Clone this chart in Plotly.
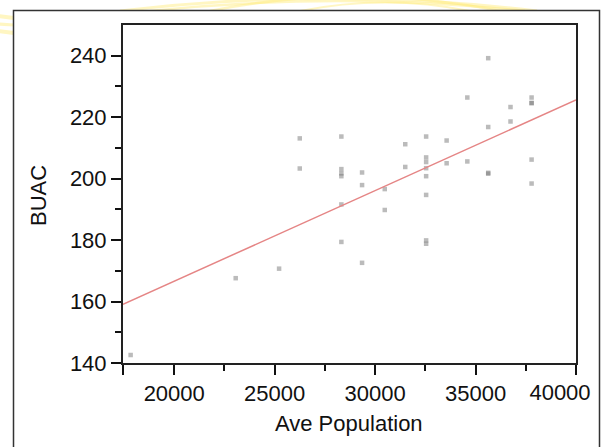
import plotly.graph_objects as go

# ---- data ----
ave_population = [
    17830, 23060, 25220,
    26250, 26250,
    28320, 28320, 28320, 28320, 28320, 28320,
    29350, 29350, 29350,
    30480, 30480,
    31500, 31500,
    32540, 32540, 32540, 32540, 32540, 32540, 32540, 32540,
    33560, 33560,
    34590, 34590,
    35630, 35630, 35630, 35630,
    36740, 36740,
    37790, 37790, 37790, 37790, 37790,
]
buac = [
    142.6, 167.6, 170.7,
    213.1, 203.3,
    213.7, 203.1, 201.7, 200.8, 191.6, 179.4,
    202.0, 197.9, 172.6,
    196.6, 189.8,
    211.2, 203.8,
    213.7, 206.9, 205.4, 203.4, 200.8, 194.7, 179.9, 178.8,
    212.4, 205.0,
    226.4, 205.6,
    239.2, 216.8, 201.9, 201.6,
    223.3, 218.6,
    226.4, 224.6, 224.6, 206.2, 198.4,
]
fit_x = [17450, 40000]
fit_y = [159.1, 225.6]

x_tick_vals = [17450, 20000, 25000, 30000, 35000, 40000]
x_tick_text = ["", "20000", "25000", "30000", "35000", ""]
x_last_tick = [40000]
x_last_text = ["40000"]
y_tick_vals = [140, 160, 180, 200, 220, 240]
y_tick_text = ["140", "160", "180", "200", "220", "240"]
x_range = [17450, 40000]
y_range = [140, 250]

# ---- geometry helpers (pixel -> paper) ----
W, H = 601, 447
L, R, T, B = 123, 25, 25, 84
PW, PH = W - L - R, H - T - B


def px(x):
    return (x - L) / PW


def py(y):
    return (H - B - y) / PH


FONT = "Liberation Sans, Arial, sans-serif"

fig = go.Figure()
fig.add_trace(go.Scatter(
    x=ave_population, y=buac, mode="markers",
    marker=dict(symbol="square", size=4.5, color="rgba(120,120,120,0.5)",
                line=dict(width=0)),
    hoverinfo="skip", showlegend=False))
fig.add_trace(go.Scatter(
    x=fit_x, y=fit_y, mode="lines",
    line=dict(color="#e58585", width=1.5),
    hoverinfo="skip", showlegend=False))
# empty trace so the overlaying label axis is drawn
fig.add_trace(go.Scatter(x=[], y=[], xaxis="x2", yaxis="y", mode="markers",
                         hoverinfo="skip", showlegend=False))

shapes = []
yellow = "rgba(255,236,120,0.45)"
# top swooshes
for (x0, x1, cy, w) in [(120, 537, -14, 3), (150, 525, -9, 2.5), (210, 500, -18, 2.5), (300, 470, -6, 2)]:
    xm = (x0 + x1) / 2
    path = f"M {px(x0)},{py(11)} Q {px(xm)},{py(cy)} {px(x1)},{py(11)}"
    shapes.append(dict(type="path", path=path, xref="paper", yref="paper",
                       line=dict(color=yellow, width=w), layer="below"))
# left streaks
for (y0, y1, w) in [(16, 18, 4), (24, 25, 3), (31, 33, 4)]:
    shapes.append(dict(type="line", xref="paper", yref="paper",
                       x0=px(-2), y0=py(y0), x1=px(14), y1=py(y1),
                       line=dict(color=yellow, width=w), layer="below"))
# outer frame
shapes.append(dict(type="rect", xref="paper", yref="paper",
                   x0=px(13.5), y0=py(470), x1=px(599.5), y1=py(10.5),
                   line=dict(color="#333333", width=1.5), fillcolor="white",
                   layer="below"))

fig.update_layout(
    template="none",
    width=W, height=H, autosize=False,
    margin=dict(l=L, r=R, t=T, b=B),
    paper_bgcolor="white", plot_bgcolor="rgba(0,0,0,0)",
    font=dict(family=FONT, size=22, color="#111111"),
    shapes=shapes,
    xaxis=dict(range=x_range, tickmode="array", tickvals=x_tick_vals,
               ticktext=x_tick_text, ticks="outside", ticklen=10, tickwidth=1.5,
               tickcolor="#111", showline=True, linecolor="#222", linewidth=2,
               mirror=True, showgrid=False, zeroline=False, automargin=False,
               ticklabeloverflow="allow",
               minor=dict(tickvals=[22500, 27500, 32500, 37500], ticks="outside",
                          ticklen=6, tickwidth=1.5, tickcolor="#111", showgrid=False),
               tickfont=dict(family=FONT, size=22)),
    xaxis2=dict(overlaying="x", side="bottom", anchor="y",
                range=x_range, tickmode="array", tickvals=x_last_tick,
                ticktext=x_last_text, ticks="outside", ticklen=10, tickwidth=1.5,
                tickcolor="rgba(0,0,0,0)", showline=False, showgrid=False,
                zeroline=False, automargin=False, ticklabeloverflow="allow",
                ticklabelshift=-16, tickfont=dict(family=FONT, size=22)),
    yaxis=dict(range=y_range, tickmode="array", tickvals=y_tick_vals,
               ticktext=y_tick_text, ticks="outside", ticklen=10, tickwidth=1.5,
               tickcolor="#111", showline=True, linecolor="#222", linewidth=2,
               mirror=True, showgrid=False, zeroline=False, automargin=False,
               ticklabeloverflow="allow",
               minor=dict(tickvals=[150, 170, 190, 210, 230], ticks="outside",
                          ticklen=6, tickwidth=1.5, tickcolor="#111", showgrid=False),
               tickfont=dict(family=FONT, size=22)),
    annotations=[
        dict(text="BUAC", xref="paper", yref="paper", x=px(38), y=py(196),
             textangle=-90, showarrow=False, xanchor="center", yanchor="middle",
             font=dict(family=FONT, size=22, color="#111")),
        dict(text="Ave Population", xref="paper", yref="paper", x=px(349), y=py(423),
             showarrow=False, xanchor="center", yanchor="middle",
             font=dict(family=FONT, size=22, color="#111")),
    ],
)

fig.write_html(
    "out.html",
    config={"responsive": False, "displayModeBar": False},
    post_script="document.body.style.margin='0';document.body.style.overflow='hidden';",
)
